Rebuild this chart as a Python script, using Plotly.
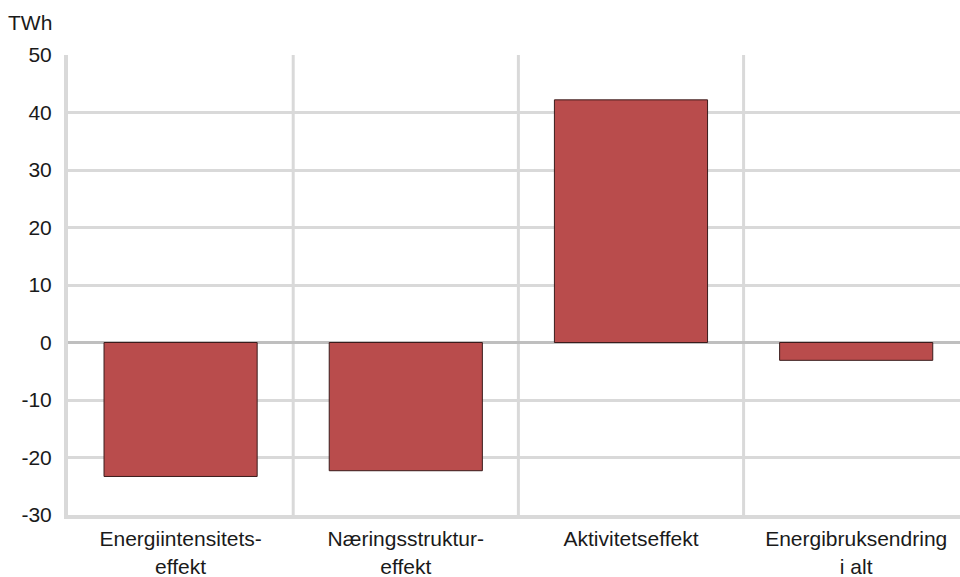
import plotly.graph_objects as go

categories = ["Energiintensitets-<br>effekt", "Næringsstruktur-<br>effekt", "Aktivitetseffekt", "Energibruksendring<br>i alt"]
values = [-23.3, -22.3, 42.2, -3.1]
y_ticks = [-30, -20, -10, 0, 10, 20, 30, 40, 50]
unit_label = "TWh"

GRID = "#d9d9d9"
FONT = "Liberation Sans, Arial, sans-serif"

fig = go.Figure()
fig.add_trace(go.Bar(
    x=list(range(len(categories))),
    y=values,
    width=0.68,
    marker=dict(color="#b94c4c", line=dict(color="#3a1c1c", width=1)),
    hoverinfo="skip",
))

for b in [0.5, 1.5, 2.5]:
    fig.add_shape(type="line", x0=b, x1=b, y0=0, y1=1, xref="x", yref="paper",
                  line=dict(color=GRID, width=3), layer="below")

fig.update_layout(
    width=960, height=577,
    margin=dict(l=68, r=0, t=55, b=62),
    paper_bgcolor="white", plot_bgcolor="white",
    showlegend=False,
    font=dict(family=FONT, size=21, color="#1a1a1a"),
    xaxis=dict(
        range=[-0.5, 3.461],
        automargin=False,
        tickmode="array",
        tickvals=list(range(len(categories))),
        ticktext=categories,
        showgrid=False, zeroline=False,
        showline=True, linecolor=GRID, linewidth=4,
        ticks="", ticklabelstandoff=2,
        tickfont=dict(size=21),
    ),
    yaxis=dict(
        range=[-30, 50],
        automargin=False,
        tickmode="array",
        tickvals=y_ticks,
        ticktext=[str(v) for v in y_ticks],
        showgrid=True, gridcolor=GRID, gridwidth=3,
        zeroline=True, zerolinecolor="#bfbfbf", zerolinewidth=3,
        showline=True, linecolor=GRID, linewidth=4,
        ticks="", ticklabelstandoff=8,
        tickfont=dict(size=21),
    ),
    annotations=[dict(
        text=unit_label, xref="paper", yref="paper", x=0, y=1,
        xanchor="right", yanchor="middle", xshift=-14, yshift=33,
        showarrow=False, font=dict(size=21),
    )],
)

fig.write_html("out.html")
